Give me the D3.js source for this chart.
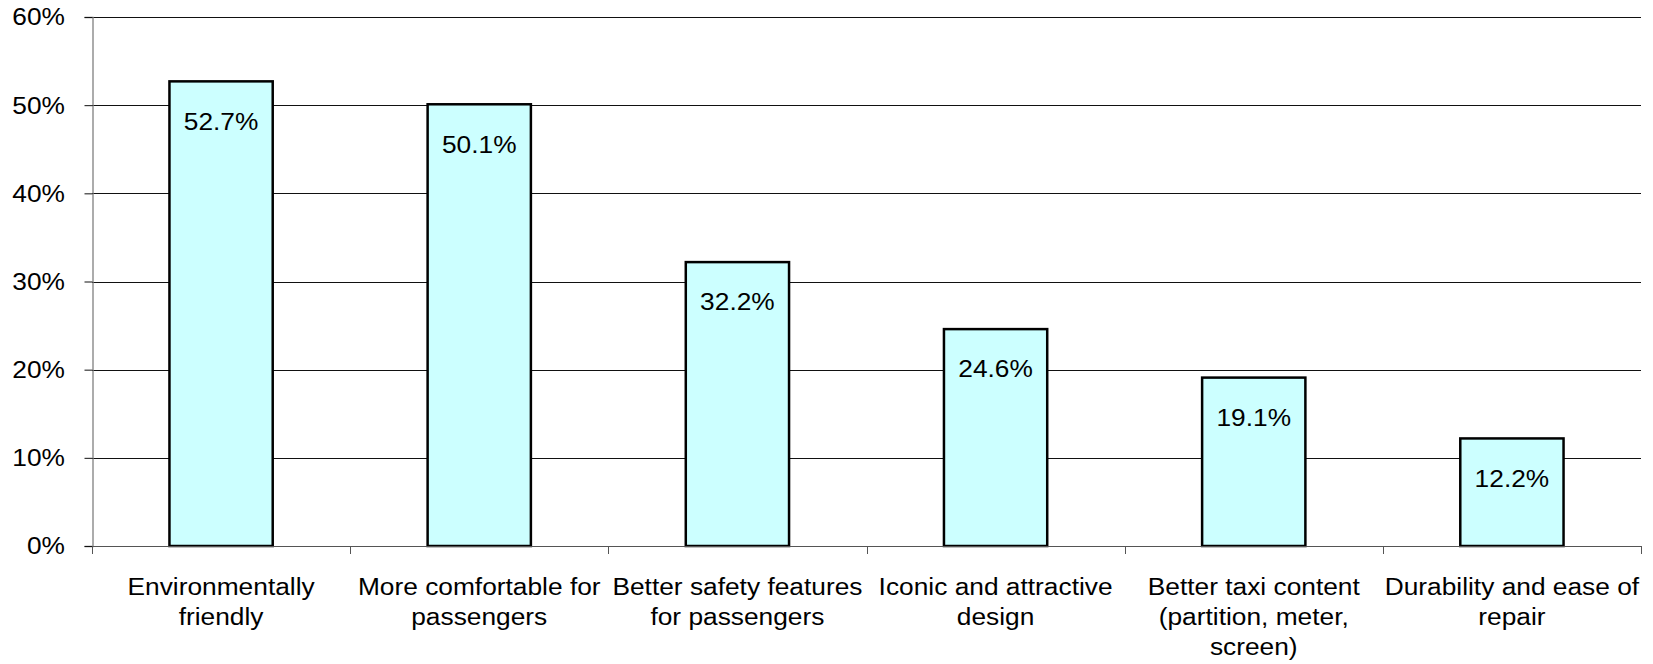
<!DOCTYPE html>
<html><head><meta charset="utf-8">
<script src="https://cdn.jsdelivr.net/npm/d3@7"></script>
<style>html,body{margin:0;padding:0;background:#fff;}svg{display:block;}</style>
</head><body>
<script>
const categories = [
  ["Environmentally", "friendly"],
  ["More comfortable for", "passengers"],
  ["Better safety features", "for passengers"],
  ["Iconic and attractive", "design"],
  ["Better taxi content", "(partition, meter,", "screen)"],
  ["Durability and ease of", "repair"]
];
const values = [52.7, 50.1, 32.2, 24.6, 19.1, 12.2];
const yTicks = [0, 10, 20, 30, 40, 50, 60];

const W = 1653, H = 664;
const m = {left: 92, right: 12, top: 17, bottom: 118};
const font = "'Liberation Sans', Arial, sans-serif";
const FS = 23.5, SX = 1.12;

const svg = d3.select("body").append("svg").attr("width", W).attr("height", H);

const x = d3.scaleBand().domain(d3.range(values.length))
  .range([m.left, W - m.right]).paddingInner(0.6).paddingOuter(0.3);
const y = d3.scaleLinear().domain([0, 60]).range([H - m.bottom, m.top]);

// gridlines
svg.append("g").selectAll("line").data(yTicks.filter(d => d > 0)).join("line")
  .attr("x1", m.left).attr("x2", W - m.right)
  .attr("y1", d => Math.round(y(d)) + 0.5).attr("y2", d => Math.round(y(d)) + 0.5)
  .attr("stroke", "#111").attr("stroke-width", 1);

// y axis
const yAxis = svg.append("g").attr("transform", `translate(${m.left + 0.5},0)`)
  .call(d3.axisLeft(y).tickValues(yTicks).tickFormat("").tickSize(8));
yAxis.select(".domain").attr("stroke", "#808080").attr("stroke-width", 1.3);
yAxis.selectAll(".tick line").attr("stroke", "#111");
svg.append("g").selectAll("text").data(yTicks).join("text")
  .attr("transform", d => `translate(65,${y(d)}) scale(${SX},1)`)
  .attr("dy", "0.36em").attr("text-anchor", "end")
  .attr("font-family", font).attr("font-size", FS).attr("fill", "#000")
  .text(d => d + "%");

// bars
svg.append("g").selectAll("rect").data(values).join("rect")
  .attr("x", (d, i) => x(i)).attr("width", x.bandwidth())
  .attr("y", d => y(d)).attr("height", d => y(0) - y(d))
  .attr("fill", "#CCFFFF").attr("stroke", "#000").attr("stroke-width", 2.5);

// x axis
const step = x.step();
const xTickPos = d3.range(values.length + 1).map(i => m.left + i * step);
const xg = svg.append("g");
xg.append("line").attr("x1", m.left).attr("x2", W - m.right)
  .attr("y1", Math.round(y(0)) + 0.5).attr("y2", Math.round(y(0)) + 0.5)
  .attr("stroke", "#555");
xg.selectAll("line.t").data(xTickPos).join("line").attr("class", "t")
  .attr("x1", d => Math.round(d) + 0.5).attr("x2", d => Math.round(d) + 0.5)
  .attr("y1", y(0)).attr("y2", y(0) + 8).attr("stroke", "#555");

// category labels
const lab = svg.append("g").selectAll("text").data(categories).join("text")
  .attr("font-family", font).attr("font-size", FS).attr("fill", "#000")
  .attr("text-anchor", "middle")
  .attr("transform", (d, i) => `translate(${x(i) + x.bandwidth() / 2},${y(0) + 49}) scale(${SX},1)`);
lab.selectAll("tspan").data(d => d).join("tspan")
  .attr("x", 0).attr("dy", (d, i) => i === 0 ? 0 : 30).text(d => d);

// value labels
svg.append("g").selectAll("text").data(values).join("text")
  .attr("transform", (d, i) => `translate(${x(i) + x.bandwidth() / 2},${y(d) + 40}) scale(${SX},1)`)
  .attr("dy", "0.35em")
  .attr("text-anchor", "middle").attr("font-family", font).attr("font-size", FS)
  .attr("fill", "#000").text(d => d.toFixed(1) + "%");
</script>
</body></html>
